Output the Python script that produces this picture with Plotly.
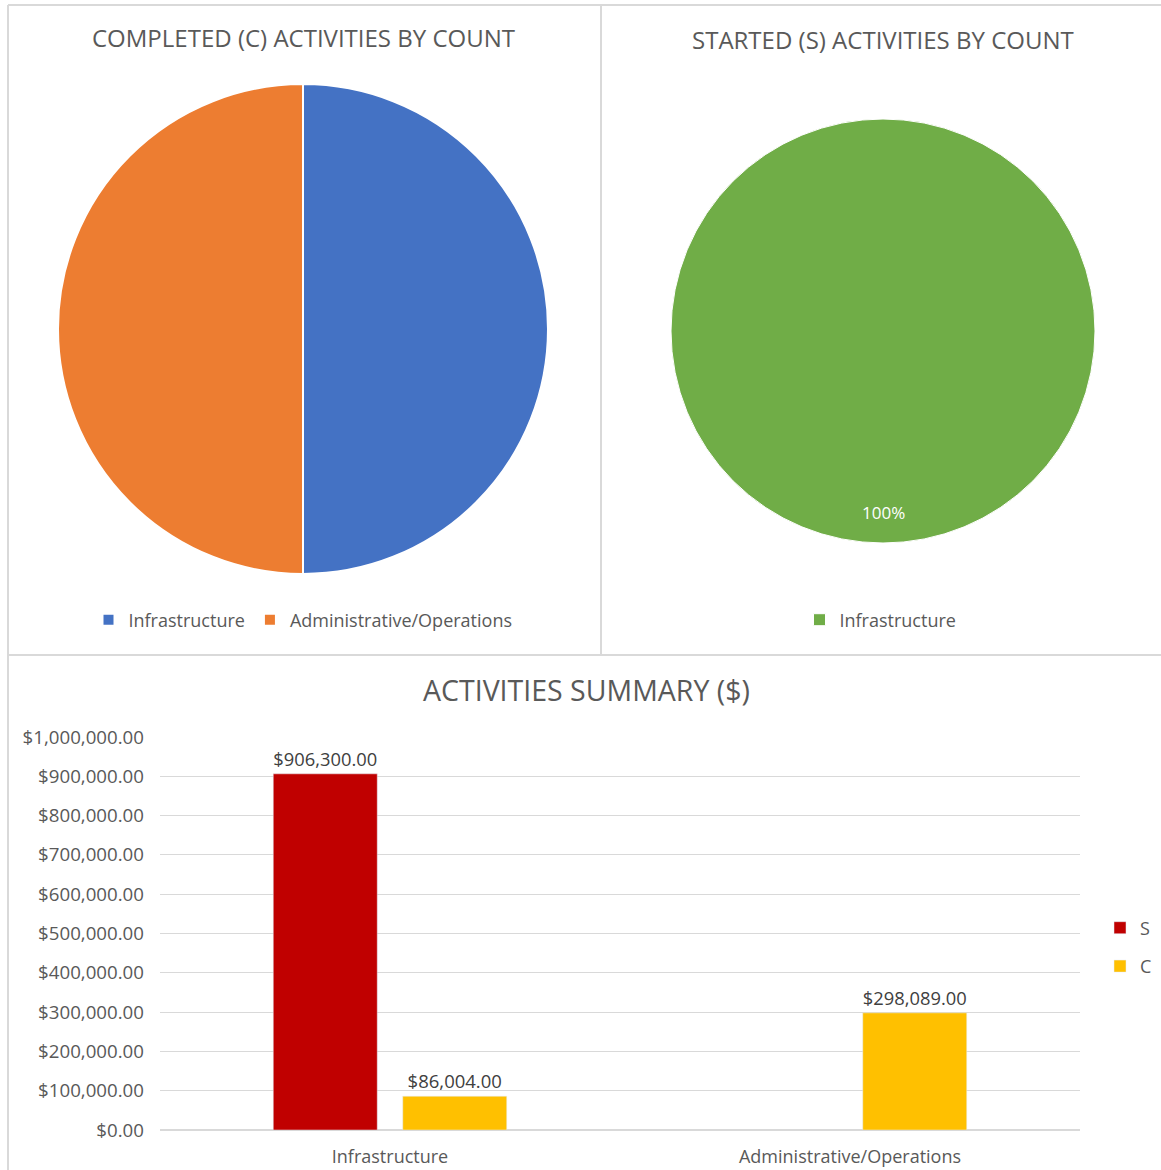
import plotly.graph_objects as go

W, H = 1161, 1170

pie1_labels = ["Infrastructure", "Administrative/Operations"]
pie1_values = [1, 1]
pie1_colors = ["#4472C4", "#ED7D31"]

# trailing space keeps this legend entry separate from the first pie's identical label
pie2_labels = ["Infrastructure "]
pie2_values = [1]
pie2_colors = ["#70AD47"]

bar_categories = ["Infrastructure", "Administrative/Operations"]
bar_S = [906300.00, None]
bar_C = [86004.00, 298089.00]
bar_colors = {"S": "#C00000", "C": "#FFC000"}

y_ticks = [0, 100000, 200000, 300000, 400000, 500000, 600000, 700000, 800000, 900000, 1000000]

FONT = "Open Sans"


def px_x(x):
    return x / W


def px_y(y):
    return 1 - y / H


fig = go.Figure()

fig.add_trace(go.Pie(
    labels=pie1_labels, values=pie1_values,
    marker=dict(colors=pie1_colors, line=dict(color="white", width=2)),
    sort=False, direction="clockwise", rotation=0,
    textinfo="none", hoverinfo="label+percent",
    domain=dict(x=[px_x(58), px_x(548)], y=[px_y(574), px_y(84)]),
    legend="legend",
))

fig.add_trace(go.Pie(
    labels=pie2_labels, values=pie2_values,
    marker=dict(colors=pie2_colors, line=dict(color="white", width=1)),
    sort=False, direction="clockwise", rotation=0,
    textinfo="none", hoverinfo="label+percent",
    domain=dict(x=[px_x(671), px_x(1095)], y=[px_y(543), px_y(119)]),
    legend="legend2",
))

fig.add_trace(go.Bar(
    x=bar_categories, y=bar_S, name="S", legendgroup="S",
    marker_color=bar_colors["S"],
    texttemplate="$%{y:,.2f}", textposition="outside",
    textfont=dict(color="#404040", size=18.5, family=FONT),
    cliponaxis=False,
    legend="legend3",
))
fig.add_trace(go.Bar(
    x=bar_categories, y=bar_C, name="C", legendgroup="C",
    marker_color=bar_colors["C"],
    texttemplate="$%{y:,.2f}", textposition="outside",
    textfont=dict(color="#404040", size=18.5, family=FONT),
    cliponaxis=False,
    legend="legend3",
))

grey_line = dict(color="#D9D9D9", width=2)
shapes = [
    dict(type="line", xref="paper", yref="paper", x0=px_x(8), x1=px_x(1161), y0=px_y(5), y1=px_y(5), line=grey_line),
    dict(type="line", xref="paper", yref="paper", x0=px_x(8), x1=px_x(8), y0=px_y(5), y1=px_y(1170), line=grey_line),
    dict(type="line", xref="paper", yref="paper", x0=px_x(601), x1=px_x(601), y0=px_y(5), y1=px_y(655), line=grey_line),
    dict(type="line", xref="paper", yref="paper", x0=px_x(8), x1=px_x(1161), y0=px_y(655), y1=px_y(655), line=grey_line),
]

pie2_pct = f"{100 * pie2_values[0] / sum(pie2_values):.0f}%"

title_font = dict(family=FONT, size=24, color="#595959")
annotations = [
    dict(text="COMPLETED (C) ACTIVITIES BY COUNT", x=px_x(303), y=px_y(38), xref="paper", yref="paper",
         showarrow=False, font=title_font, xanchor="center", yanchor="middle"),
    dict(text="STARTED (S) ACTIVITIES BY COUNT", x=px_x(883), y=px_y(40), xref="paper", yref="paper",
         showarrow=False, font=title_font, xanchor="center", yanchor="middle"),
    dict(text="ACTIVITIES SUMMARY ($)", x=px_x(586), y=px_y(690), xref="paper", yref="paper",
         showarrow=False, font=dict(family=FONT, size=28.5, color="#595959"), xanchor="center", yanchor="middle"),
    dict(text=pie2_pct, x=px_x(883), y=px_y(512), xref="paper", yref="paper",
         showarrow=False, font=dict(family=FONT, size=17, color="white"), xanchor="center", yanchor="middle"),
]

fig.update_layout(
    width=W, height=H,
    margin=dict(l=0, r=0, t=0, b=0, autoexpand=False),
    paper_bgcolor="white", plot_bgcolor="white",
    font=dict(family=FONT, color="#595959"),
    barmode="group", bargap=0.437, bargroupgap=0.197,
    xaxis=dict(domain=[px_x(160), px_x(1080)], showgrid=False, showline=False, ticks="",
               tickfont=dict(size=18, color="#595959"), anchor="y", automargin=False,
               ticklabelstandoff=14),
    yaxis=dict(domain=[px_y(1130), px_y(737)], range=[0, 1000000], tickvals=y_ticks,
               tickformat="$,.2f", showgrid=True, gridcolor="#D9D9D9", gridwidth=1,
               zeroline=True, zerolinecolor="#D9D9D9", showline=False, automargin=False,
               tickfont=dict(size=18.7, color="#595959"), ticklabelstandoff=15),
    legend=dict(orientation="h", x=px_x(303), y=px_y(620), xanchor="center", yanchor="middle",
                font=dict(size=18, color="#595959"), itemwidth=30),
    legend2=dict(orientation="h", x=px_x(883), y=px_y(620), xanchor="center", yanchor="middle",
                 font=dict(size=18, color="#595959"), itemwidth=30),
    legend3=dict(orientation="v", x=px_x(1100), y=px_y(947), xanchor="left", yanchor="middle",
                 font=dict(size=18, color="#595959"), itemwidth=30, tracegroupgap=12),
    shapes=shapes,
    annotations=annotations,
)

fig.write_html(
    "out.html",
    config={"displayModeBar": False},
    post_script="document.body.style.margin='0';document.body.style.overflow='hidden';",
)
